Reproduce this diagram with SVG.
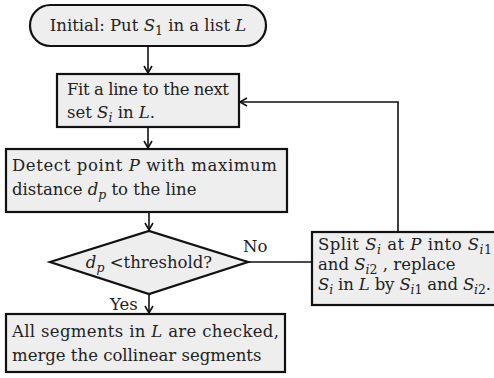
<svg xmlns="http://www.w3.org/2000/svg" width="494" height="378" viewBox="0 0 494 378">
<style>
.box{fill:#eeeeee;stroke:#111;stroke-width:2.2}
.i{font-style:italic}
.sub{font-size:12.5px}
.conn{fill:none;stroke:#111;stroke-width:1.6}
</style>
<defs>
<marker id="ah" markerWidth="10" markerHeight="10" refX="8" refY="5" orient="auto" markerUnits="userSpaceOnUse">
<path d="M1,1 L8,5 L1,9" fill="none" stroke="#111" stroke-width="1.6"/>
</marker>
</defs>
<g id="connectors">
<line class="conn" x1="148" y1="46" x2="148" y2="73" marker-end="url(#ah)"/>
<line class="conn" x1="148" y1="127" x2="148" y2="148" marker-end="url(#ah)"/>
<line class="conn" x1="149" y1="212" x2="149" y2="230" marker-end="url(#ah)"/>
<line class="conn" x1="149" y1="294" x2="149" y2="313" marker-end="url(#ah)"/>
<line class="conn" x1="248" y1="262" x2="312" y2="262"/>
<polyline class="conn" points="398,232 398,102 240,102" marker-end="url(#ah)"/>
</g>
<g font-family="'DejaVu Serif', serif" font-size="16.5" fill="#222">
<g id="start">
<rect class="box" x="30" y="5" width="236" height="41" rx="20.5"/>
<text x="148" y="31" text-anchor="middle">Initial: Put <tspan class="i">S</tspan><tspan class="sub" dy="4">1</tspan><tspan dy="-4"> in a list </tspan><tspan class="i">L</tspan></text>
</g>
<g id="fit">
<rect class="box" x="57" y="74" width="182" height="53"/>
<text x="67" y="95" textLength="162" lengthAdjust="spacing">Fit a line to the next</text>
<text x="67" y="118">set <tspan class="i">S</tspan><tspan class="sub i" dy="4">i</tspan><tspan dy="-4"> in </tspan><tspan class="i">L</tspan>.</text>
</g>
<g id="detect">
<rect class="box" x="6" y="149" width="281" height="63"/>
<text x="12" y="171" textLength="265" lengthAdjust="spacing">Detect point  <tspan class="i">P</tspan>  with maximum</text>
<text x="12" y="195">distance  <tspan class="i">d</tspan><tspan class="sub i" dy="4">p</tspan><tspan dy="-4"> to the line</tspan></text>
</g>
<g id="decision">
<polygon class="box" points="50,262 149,231 248,262 149,294"/>
<text x="149" y="268" text-anchor="middle"><tspan class="i">d</tspan><tspan class="sub i" dy="4">p</tspan><tspan dy="-4"> &lt;threshold?</tspan></text>
<text x="243" y="252">No</text>
<text x="110" y="310">Yes</text>
</g>
<g id="split">
<rect class="box" x="312" y="232" width="190" height="73"/>
<text x="318" y="250" textLength="174" lengthAdjust="spacing">Split <tspan class="i">S</tspan><tspan class="sub i" dy="4">i</tspan><tspan dy="-4"> at </tspan><tspan class="i">P</tspan> into <tspan class="i">S</tspan><tspan class="sub" dy="4"><tspan class="i">i</tspan>1</tspan></text>
<text x="318" y="270">and <tspan class="i">S</tspan><tspan class="sub" dy="4"><tspan class="i">i</tspan>2</tspan><tspan dy="-4"> , replace</tspan></text>
<text x="318" y="290" textLength="173" lengthAdjust="spacing"><tspan class="i">S</tspan><tspan class="sub i" dy="4">i</tspan><tspan dy="-4"> in </tspan><tspan class="i">L</tspan> by <tspan class="i">S</tspan><tspan class="sub" dy="4"><tspan class="i">i</tspan>1</tspan><tspan dy="-4"> and </tspan><tspan class="i">S</tspan><tspan class="sub" dy="4"><tspan class="i">i</tspan>2</tspan><tspan dy="-4">.</tspan></text>
</g>
<g id="end">
<rect class="box" x="6" y="314" width="279" height="58"/>
<text x="12" y="337" textLength="267" lengthAdjust="spacing">All segments in  <tspan class="i">L</tspan>  are checked,</text>
<text x="12" y="361">merge the collinear segments</text>
</g>
</g>
</svg>
